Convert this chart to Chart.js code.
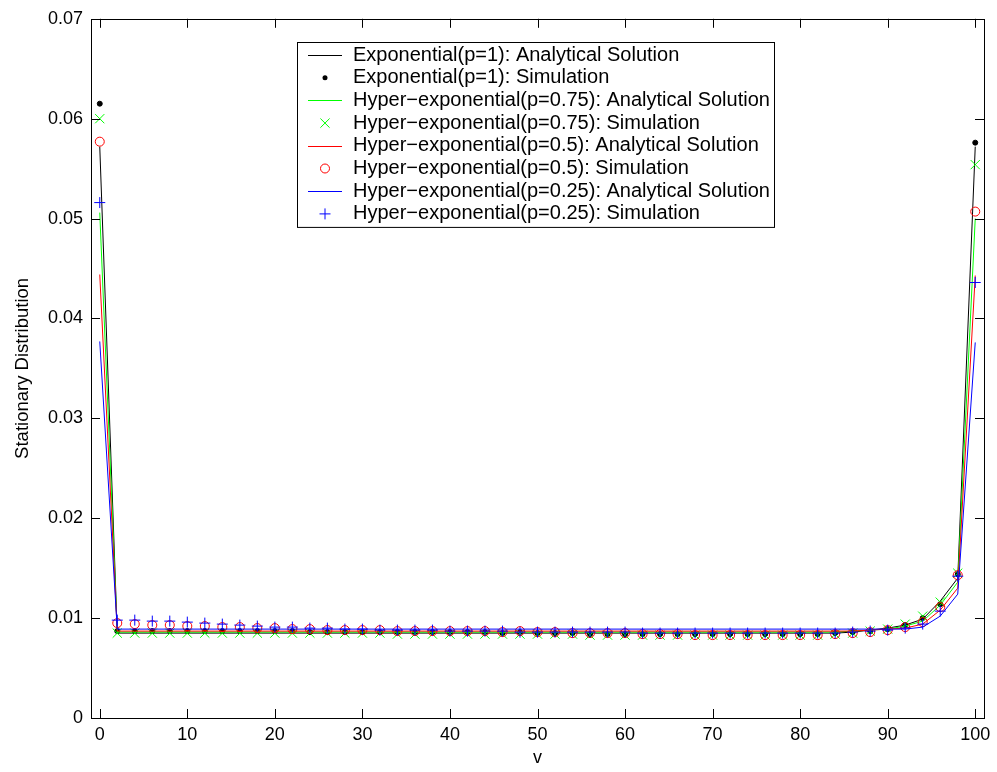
<!DOCTYPE html>
<html>
<head>
<meta charset="utf-8">
<script src="https://cdn.jsdelivr.net/npm/chart.js@4/dist/chart.umd.min.js"></script>
<style>
  body { margin: 0; background: #fff; }
  #wrap { width: 997px; height: 772px; }
</style>
</head>
<body>
<div id="wrap"><canvas id="chart" width="997" height="772"></canvas></div>
<script>
// v = 0, 2, ..., 100
const vValues = [0, 2, 4, 6, 8, 10, 12, 14, 16, 18, 20, 22, 24, 26, 28, 30, 32, 34, 36, 38,
  40, 42, 44, 46, 48, 50, 52, 54, 56, 58, 60, 62, 64, 66, 68, 70, 72, 74, 76, 78,
  80, 82, 84, 86, 88, 90, 92, 94, 96, 98, 100];

// analytical solutions
const expAnalytical = [0.0572, 0.0085, 0.0085, 0.0085, 0.0085, 0.0085, 0.0085, 0.0085, 0.0085, 0.0085,
  0.0085, 0.0085, 0.0085, 0.0085, 0.0085, 0.0085, 0.0085, 0.0085, 0.0085, 0.0085,
  0.0085, 0.0085, 0.0085, 0.0085, 0.0085, 0.0085, 0.0085, 0.0085, 0.0085, 0.0085,
  0.0085, 0.0085, 0.0085, 0.0085, 0.0085, 0.0085, 0.0085, 0.0085, 0.0085, 0.0085,
  0.0085, 0.0085, 0.0085, 0.0086, 0.0088, 0.0090, 0.0093, 0.0099, 0.0117, 0.0140, 0.0572];
const hyp75Analytical = [0.0506, 0.0086, 0.0086, 0.0086, 0.0086, 0.0086, 0.0086, 0.0086, 0.0086, 0.0086,
  0.0086, 0.0086, 0.0086, 0.0086, 0.0086, 0.0086, 0.0086, 0.0086, 0.0086, 0.0086,
  0.0086, 0.0086, 0.0086, 0.0086, 0.0086, 0.0086, 0.0086, 0.0086, 0.0086, 0.0086,
  0.0086, 0.0086, 0.0086, 0.0086, 0.0086, 0.0086, 0.0086, 0.0086, 0.0086, 0.0086,
  0.0086, 0.0086, 0.0086, 0.0087, 0.0088, 0.0089, 0.0092, 0.0097, 0.0113, 0.0136, 0.0500];
const hyp50Analytical = [0.0444, 0.0087, 0.0087, 0.0087, 0.0087, 0.0087, 0.0087, 0.0087, 0.0087, 0.0087,
  0.0087, 0.0087, 0.0087, 0.0087, 0.0087, 0.0087, 0.0087, 0.0087, 0.0087, 0.0087,
  0.0087, 0.0087, 0.0087, 0.0087, 0.0087, 0.0087, 0.0087, 0.0087, 0.0087, 0.0087,
  0.0087, 0.0087, 0.0087, 0.0087, 0.0087, 0.0087, 0.0087, 0.0087, 0.0087, 0.0087,
  0.0087, 0.0087, 0.0087, 0.0087, 0.0088, 0.0089, 0.0090, 0.0094, 0.0108, 0.0130, 0.0443];
const hyp25Analytical = [0.0377, 0.0089, 0.0089, 0.0089, 0.0089, 0.0089, 0.0089, 0.0089, 0.0089, 0.0089,
  0.0089, 0.0089, 0.0089, 0.0089, 0.0089, 0.0089, 0.0089, 0.0089, 0.0089, 0.0089,
  0.0089, 0.0089, 0.0089, 0.0089, 0.0089, 0.0089, 0.0089, 0.0089, 0.0089, 0.0089,
  0.0089, 0.0089, 0.0089, 0.0089, 0.0089, 0.0089, 0.0089, 0.0089, 0.0089, 0.0089,
  0.0089, 0.0089, 0.0089, 0.0089, 0.0089, 0.0089, 0.0089, 0.0091, 0.0102, 0.0124, 0.0376];

// simulation results
const expSim = [0.0615, 0.0087, 0.0087, 0.0087, 0.0087, 0.0087, 0.0087, 0.0087, 0.0087, 0.0087,
  0.0087, 0.0087, 0.0086, 0.0086, 0.0086, 0.0086, 0.0086, 0.0086, 0.0086, 0.0086,
  0.0086, 0.0086, 0.0086, 0.0085, 0.0086, 0.0085, 0.0085, 0.0085, 0.0084, 0.0084,
  0.0084, 0.0084, 0.0084, 0.0084, 0.0084, 0.0084, 0.0084, 0.0084, 0.0084, 0.0084,
  0.0084, 0.0084, 0.0085, 0.0086, 0.0087, 0.0089, 0.0093, 0.0100, 0.0114, 0.0144, 0.0576];
const hyp75Sim = [0.0600, 0.0085, 0.0085, 0.0085, 0.0085, 0.0085, 0.0085, 0.0085, 0.0085, 0.0085,
  0.0085, 0.0085, 0.0085, 0.0085, 0.0085, 0.0085, 0.0085, 0.0084, 0.0084, 0.0084,
  0.0084, 0.0084, 0.0084, 0.0084, 0.0084, 0.0084, 0.0084, 0.0084, 0.0083, 0.0083,
  0.0083, 0.0083, 0.0083, 0.0083, 0.0083, 0.0083, 0.0083, 0.0083, 0.0083, 0.0083,
  0.0083, 0.0083, 0.0084, 0.0085, 0.0087, 0.0089, 0.0094, 0.0102, 0.0116, 0.0145, 0.0554];
const hyp50Sim = [0.0577, 0.0095, 0.0094, 0.0093, 0.0093, 0.0092, 0.0092, 0.0091, 0.0091, 0.0090,
  0.0090, 0.0089, 0.0089, 0.0088, 0.0088, 0.0088, 0.0088, 0.0087, 0.0087, 0.0087,
  0.0087, 0.0087, 0.0087, 0.0086, 0.0087, 0.0086, 0.0086, 0.0085, 0.0085, 0.0085,
  0.0085, 0.0084, 0.0084, 0.0084, 0.0083, 0.0083, 0.0083, 0.0083, 0.0083, 0.0083,
  0.0083, 0.0083, 0.0084, 0.0085, 0.0086, 0.0088, 0.0091, 0.0096, 0.0111, 0.0143, 0.0507];
const hyp25Sim = [0.0516, 0.0098, 0.0098, 0.0097, 0.0097, 0.0096, 0.0095, 0.0094, 0.0093, 0.0092,
  0.0091, 0.0091, 0.0090, 0.0090, 0.0089, 0.0089, 0.0088, 0.0088, 0.0088, 0.0088,
  0.0087, 0.0087, 0.0087, 0.0087, 0.0086, 0.0086, 0.0086, 0.0086, 0.0086, 0.0086,
  0.0086, 0.0085, 0.0085, 0.0085, 0.0085, 0.0085, 0.0085, 0.0085, 0.0085, 0.0085,
  0.0085, 0.0085, 0.0085, 0.0086, 0.0087, 0.0088, 0.0090, 0.0094, 0.0107, 0.0142, 0.0436];

const xTicks = [0, 10, 20, 30, 40, 50, 60, 70, 80, 90, 100];
const yTicks = [0, 0.01, 0.02, 0.03, 0.04, 0.05, 0.06, 0.07];

const FONT = "'Liberation Sans', Arial, Helvetica, sans-serif";
const NONE = "rgba(0,0,0,0)";

const toPoints = (ys) => vValues.map((v, i) => ({ x: v, y: ys[i] }));

const lineSet = (label, ys, color) => ({
  label: label,
  data: toPoints(ys),
  showLine: true,
  borderColor: color,
  backgroundColor: color,
  borderWidth: 1,
  pointRadius: 0,
  pointHoverRadius: 0,
  legendKind: "line",
});

const markSet = (label, ys, color, style, radius, fill) => ({
  label: label,
  data: toPoints(ys),
  showLine: false,
  borderColor: color,
  backgroundColor: fill,
  pointStyle: style,
  pointRadius: radius,
  pointBorderWidth: 1,
  pointHoverRadius: radius,
  legendKind: "point",
});

const datasets = [
  lineSet("Exponential(p=1): Analytical Solution", expAnalytical, "#000000"),
  markSet("Exponential(p=1): Simulation", expSim, "#000000", "circle", 2.5, "#000000"),
  lineSet("Hyper\u2212exponential(p=0.75): Analytical Solution", hyp75Analytical, "#00ff00"),
  markSet("Hyper\u2212exponential(p=0.75): Simulation", hyp75Sim, "#00ff00", "crossRot", 6.5, NONE),
  lineSet("Hyper\u2212exponential(p=0.5): Analytical Solution", hyp50Analytical, "#ff0000"),
  markSet("Hyper\u2212exponential(p=0.5): Simulation", hyp50Sim, "#ff0000", "circle", 4.5, NONE),
  lineSet("Hyper\u2212exponential(p=0.25): Analytical Solution", hyp25Analytical, "#0000ff"),
  markSet("Hyper\u2212exponential(p=0.25): Simulation", hyp25Sim, "#0000ff", "cross", 5.5, NONE),
];
// later series are drawn on top, like the original plot
datasets.forEach((d, i) => { d.order = datasets.length - i; });

// box with inward ticks on all four sides
const boxPlugin = {
  id: "box",
  afterDatasetsDraw(chart) {
    const { ctx, chartArea: a, scales } = chart;
    const len = 9;
    ctx.save();
    ctx.strokeStyle = "#000";
    ctx.lineWidth = 1;
    ctx.strokeRect(Math.round(a.left) + 0.5, Math.round(a.top) + 0.5,
      Math.round(a.right - a.left), Math.round(a.bottom - a.top));
    ctx.beginPath();
    xTicks.forEach((t) => {
      const px = Math.round(scales.x.getPixelForValue(t)) + 0.5;
      ctx.moveTo(px, a.bottom); ctx.lineTo(px, a.bottom - len);
      ctx.moveTo(px, a.top); ctx.lineTo(px, a.top + len);
    });
    yTicks.forEach((t) => {
      const py = Math.round(scales.y.getPixelForValue(t)) + 0.5;
      ctx.moveTo(a.left, py); ctx.lineTo(a.left + len, py);
      ctx.moveTo(a.right, py); ctx.lineTo(a.right - len, py);
    });
    ctx.stroke();
    ctx.restore();
  },
};

// legend box drawn inside the plot, MATLAB style
const legendPlugin = {
  id: "boxLegend",
  afterDraw(chart) {
    const { ctx } = chart;
    const left = 297, top = 42, width = 477, rowH = 22.7, firstRow = 55;
    const sx = 325;
    const rows = chart.data.datasets.length;
    const height = (firstRow - top) * 2 + rowH * (rows - 1);
    ctx.save();
    ctx.fillStyle = "#fff";
    ctx.fillRect(left, top, width, height);
    ctx.strokeStyle = "#000";
    ctx.lineWidth = 1;
    ctx.strokeRect(left + 0.5, top + 0.5, width, height);
    ctx.font = "20px " + FONT;
    ctx.textBaseline = "middle";
    chart.data.datasets.forEach((d, i) => {
      const y = firstRow + i * rowH;
      ctx.strokeStyle = d.borderColor;
      ctx.lineWidth = 1;
      ctx.beginPath();
      if (d.legendKind === "line") {
        ctx.moveTo(308, Math.round(y) + 0.5);
        ctx.lineTo(342, Math.round(y) + 0.5);
        ctx.stroke();
      } else {
        const r = d.pointRadius;
        if (d.pointStyle === "circle") {
          ctx.arc(sx, y, r, 0, Math.PI * 2);
          if (d.backgroundColor !== NONE) {
            ctx.fillStyle = d.backgroundColor;
            ctx.fill();
          } else {
            ctx.stroke();
          }
        } else if (d.pointStyle === "crossRot") {
          const o = r * Math.SQRT1_2;
          ctx.moveTo(sx - o, y - o); ctx.lineTo(sx + o, y + o);
          ctx.moveTo(sx - o, y + o); ctx.lineTo(sx + o, y - o);
          ctx.stroke();
        } else {
          ctx.moveTo(sx - r, y); ctx.lineTo(sx + r, y);
          ctx.moveTo(sx, y - r); ctx.lineTo(sx, y + r);
          ctx.stroke();
        }
      }
      ctx.fillStyle = "#000";
      ctx.fillText(d.label, 353, y);
    });
    ctx.restore();
  },
};

new Chart(document.getElementById("chart"), {
  type: "scatter",
  data: { datasets: datasets },
  options: {
    responsive: false,
    animation: false,
    events: [],
    layout: { padding: { top: 17, right: 13, left: 0, bottom: 0 } },
    plugins: {
      legend: { display: false },
      tooltip: { enabled: false },
    },
    scales: {
      x: {
        type: "linear",
        min: -1,
        max: 101,
        afterFit: (scale) => { scale.height = 54; },
        grid: { display: false, drawTicks: false },
        border: { display: false },
        ticks: {
          stepSize: 10,
          includeBounds: false,
          autoSkip: false,
          maxRotation: 0,
          padding: 6,
          color: "#000",
          font: { family: FONT, size: 18 },
        },
        title: {
          display: true,
          text: "v",
          color: "#000",
          font: { family: FONT, size: 18 },
          padding: { top: 0, bottom: 3 },
        },
      },
      y: {
        type: "linear",
        min: 0,
        max: 0.07,
        afterFit: (scale) => { scale.width = 91; },
        grid: { display: false, drawTicks: false },
        border: { display: false },
        ticks: {
          stepSize: 0.01,
          includeBounds: false,
          autoSkip: false,
          padding: 8,
          color: "#000",
          font: { family: FONT, size: 18 },
          callback: (v) => (Math.abs(v) < 1e-9 ? "0" : v.toFixed(2)),
        },
        title: {
          display: true,
          text: "Stationary Distribution",
          color: "#000",
          font: { family: FONT, size: 18.5 },
          padding: { top: 12, bottom: 0 },
        },
      },
    },
  },
  plugins: [boxPlugin, legendPlugin],
});
</script>
</body>
</html>
